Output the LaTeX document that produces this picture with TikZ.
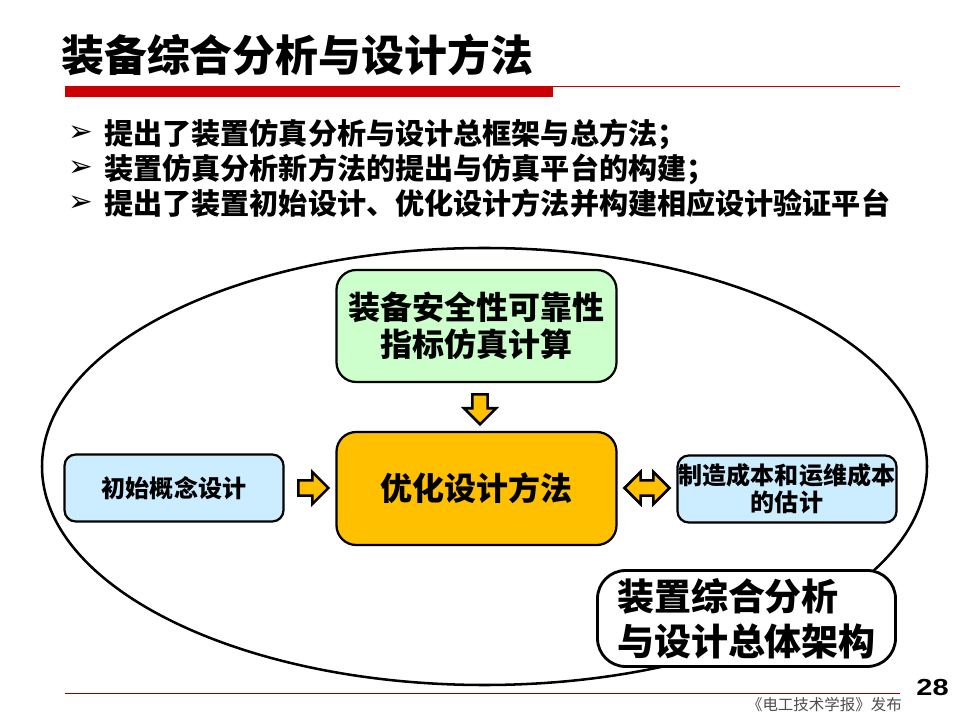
\documentclass[tikz,border=0pt]{standalone}
\usepackage{fontspec}
\usetikzlibrary{shapes.geometric}
\usetikzlibrary{shapes.arrows}
\setmainfont{Noto Sans CJK SC}
\newfontfamily\arialfont{Liberation Sans}
\newfontfamily\dejafont{DejaVu Sans}
\definecolor{r1}{HTML}{CC0000}
\definecolor{b1}{HTML}{CCECFF}
\definecolor{g1}{HTML}{CCFFCC}
\definecolor{o1}{HTML}{FFC000}
\newcommand\pxw{0.025cm}
\tikzstyle{bluebox}=[draw,line width=1.6pt,rounded corners=8pt,fill=b1,align=center,font=\fontsize{17.1}{19.2}\bfseries\selectfont,inner sep=0pt,minimum width=219*\pxw,minimum height=67*\pxw]
\tikzstyle{bigbox}=[draw,line width=1.6pt,rounded corners=14pt,minimum width=280*\pxw,align=center,font=\fontsize{22.75}{26.5}\bfseries\selectfont,inner sep=0pt]
\tikzstyle{blockarrow}=[draw,line width=1.8pt,fill=o1,inner xsep=0pt,inner ysep=4.5pt]
\newcommand{\bulletline}[3]
{  % #1 = name , #2 = baseline y , #3 = text
  \node (b#1) at (81,#2-11) {\dejafont\fontsize{21}{21}\selectfont ➢};
  \node[anchor=base west,inner sep=0pt,font=\fontsize{20.7}{25}\bfseries\selectfont] (t#1) at (104,#2) {#3};
}

\begin{document}
\begin{tikzpicture}[x=0.025cm,y=-0.025cm]
  \useasboundingbox (0,0) rectangle (960,720);
  \node[anchor=west,inner sep=0pt,font=\fontsize{30.5}{36}\bfseries\selectfont] (title) at (61,55) {装备综合分析与设计方法};
  \fill[r1] (65,86) rectangle (553,97);
  \draw[r1,line width=0.7pt] (553,86.5) -- (900,86.5);
  \bulletline{a}{145}{提出了装置仿真分析与设计总框架与总方法；}
  \bulletline{b}{179.5}{装置仿真分析新方法的提出与仿真平台的构建；}
  \bulletline{c}{215}{提出了装置初始设计、优化设计方法并构建相应设计验证平台}
  \node[draw,ellipse,line width=1.8pt,minimum width=885*\pxw,minimum height=437*\pxw,inner sep=0pt] (frame) at (484.5,466.5) {};
  \node[bigbox,fill=g1,minimum height=112*\pxw] (safety) at (476.5,326) {装备安全性可靠性\\指标仿真计算};
  \node[bigbox,fill=o1,minimum height=113*\pxw] (optim) at (476.5,488.5) {优化设计方法};
  \node[bluebox] (concept) at (174,488) {初始概念设计};
  \node[bluebox] (cost) at (787,489) {制造成本和运维成本\\的估计};
  \node[draw,line width=2pt,rounded corners=20pt,fill=white,minimum width=298*\pxw,minimum height=96*\pxw,align=left,font=\fontsize{26.3}{32}\bfseries\selectfont,inner sep=0pt] (overall) at (746.5,618.5) {装置综合分析\\与设计总体架构};
  \node[blockarrow,single arrow,single arrow head extend=6pt,rotate=270,minimum height=30*\pxw] (arrowa) at (480,405.5) {};
  \node[blockarrow,single arrow,single arrow head extend=6pt,minimum height=30*\pxw] (arrowb) at (309.5,488) {};
  \node[blockarrow,double arrow,double arrow head extend=6pt,minimum height=45*\pxw] (arrowc) at (647,488) {};
  \draw[r1!70!black,line width=0.7pt] (65,693.5) -- (900,693.5);
  \node[anchor=east,inner sep=0pt,text=black!70,font=\fontsize{11}{13}\selectfont] (source) at (902,705) {《电工技术学报》发布};
  \node[anchor=east,inner sep=0pt,xscale=1.25,font=\arialfont\fontsize{16.5}{18}\bfseries\selectfont] (page) at (949,688) {28};
\end{tikzpicture}
\end{document}
